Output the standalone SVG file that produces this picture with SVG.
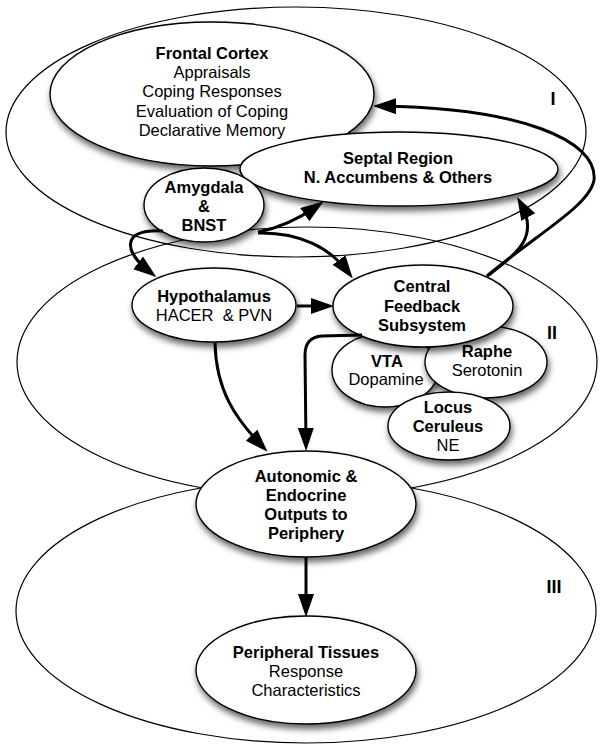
<svg xmlns="http://www.w3.org/2000/svg" width="602" height="750" viewBox="0 0 602 750">
<style>
.region{fill:none;stroke:#000;stroke-width:1.2}
.node{fill:#fff;stroke:#000;stroke-width:1.4;filter:url(#sh)}
text{font-family:"Liberation Sans",Arial,Helvetica,sans-serif;font-size:16.5px;fill:#000;text-anchor:middle}
.b{font-weight:bold}
.lab{font-weight:bold;font-size:18px}
.arrow{fill:none;stroke:#000;stroke-width:3;marker-end:url(#ah)}
</style>
<defs>
<filter id="sh" x="-20%" y="-20%" width="140%" height="160%">
<feDropShadow dx="1.5" dy="4.5" stdDeviation="3" flood-color="#000" flood-opacity="0.6"/>
</filter>
<marker id="ah" markerUnits="userSpaceOnUse" markerWidth="24" markerHeight="17" refX="15" refY="8" orient="auto">
<path d="M0,0 L23,8 L0,16 z" fill="#000"/>
</marker>
</defs>
<rect width="602" height="750" fill="#fff"/>
<g id="regions">
<ellipse class="region" cx="296" cy="132" rx="290" ry="125"/>
<ellipse class="region" cx="307" cy="362" rx="290" ry="135"/>
<ellipse class="region" cx="306" cy="611" rx="290" ry="132"/>
<text class="lab" x="553" y="105">I</text>
<text class="lab" x="552" y="339">II</text>
<text class="lab" x="554" y="593">III</text>
</g>
<g id="frontal">
<ellipse class="node" cx="212" cy="94" rx="162" ry="72"/>
<text class="b" x="212" y="59">Frontal Cortex</text>
<text x="212" y="78.2">Appraisals</text>
<text x="212" y="97.4">Coping Responses</text>
<text x="212" y="116.6">Evaluation of Coping</text>
<text x="212" y="135.8">Declarative Memory</text>
</g>
<g id="septal">
<ellipse class="node" cx="399" cy="169" rx="159" ry="37"/>
<text class="b" x="398" y="164">Septal Region</text>
<text class="b" x="398" y="183">N. Accumbens &amp; Others</text>
</g>
<g id="amygdala">
<ellipse class="node" cx="204" cy="205" rx="60" ry="37"/>
<text class="b" x="204" y="193">Amygdala</text>
<text class="b" x="204" y="212">&amp;</text>
<text class="b" x="204" y="231">BNST</text>
</g>
<g id="hypothalamus">
<ellipse class="node" cx="214" cy="305" rx="82" ry="37"/>
<text class="b" x="214" y="302">Hypothalamus</text>
<text x="214" y="321" style="white-space:pre">HACER  &amp; PVN</text>
</g>
<g id="vta">
<ellipse class="node" cx="385" cy="370" rx="53" ry="37"/>
<text class="b" x="387" y="367">VTA</text>
<text x="386" y="385">Dopamine</text>
</g>
<g id="raphe">
<ellipse class="node" cx="486" cy="362" rx="61" ry="36"/>
<text class="b" x="487" y="357">Raphe</text>
<text x="487" y="376">Serotonin</text>
</g>
<g id="locus">
<ellipse class="node" cx="449" cy="426" rx="61" ry="34"/>
<text class="b" x="448" y="413">Locus</text>
<text class="b" x="448" y="432">Ceruleus</text>
<text x="448" y="451">NE</text>
</g>
<g id="central">
<ellipse class="node" cx="423" cy="306" rx="90" ry="41"/>
<text class="b" x="422" y="292">Central</text>
<text class="b" x="422" y="311.5">Feedback</text>
<text class="b" x="422" y="331">Subsystem</text>
</g>
<g id="autonomic">
<ellipse class="node" cx="306" cy="504" rx="110" ry="53"/>
<text class="b" x="306" y="482">Autonomic &amp;</text>
<text class="b" x="306" y="501">Endocrine</text>
<text class="b" x="306" y="520">Outputs to</text>
<text class="b" x="306" y="539">Periphery</text>
</g>
<g id="peripheral">
<ellipse class="node" cx="306" cy="670" rx="110" ry="54"/>
<text class="b" x="306" y="658">Peripheral Tissues</text>
<text x="306" y="677">Response</text>
<text x="306" y="696">Characteristics</text>
</g>
<g id="connectors">
<path class="arrow" d="M487,276 C540,232 590,205 594,180 C598,140 520,108 381,106"/>
<path class="arrow" d="M489,275 C515,254 540,238 521,204"/>
<path class="arrow" d="M258,232 C280,228 300,218 317,206"/>
<path class="arrow" d="M163,231 C120,229 124,252 150,272"/>
<path class="arrow" d="M258,233 C300,232 330,248 348,272"/>
<path class="arrow" d="M297,306 L326,306"/>
<path class="arrow" d="M215,343 C216,390 235,418 262,446"/>
<path class="arrow" d="M362,335 L322,336 Q305,337 305,355 L306,443"/>
<path class="arrow" d="M306,557 L306,609"/>
</g>
</svg>
